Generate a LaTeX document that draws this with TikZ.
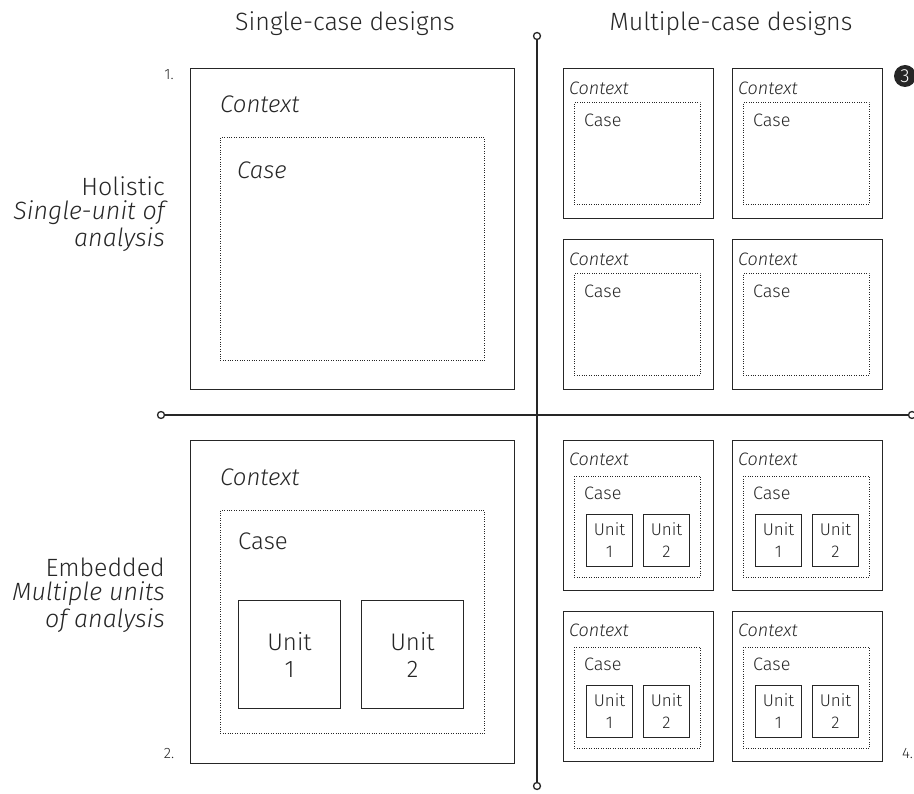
\documentclass[tikz,border=0pt]{standalone}
\usepackage{fontspec}
\setmainfont{Fira Sans Light}[ItalicFont={Fira Sans Light Italic}]
\definecolor{ink}{HTML}{262626}
\begin{document}
\begin{tikzpicture}[x=1pt,y=-1pt,
  box/.style={draw=ink, line width=1.2pt, inner sep=0pt, anchor=north west},
  casebox/.style={draw=ink, line width=0.8pt, dash pattern=on 0.8pt off 1.6pt, inner sep=0pt, anchor=north west},
  unitbox/.style={draw=ink, line width=1pt, inner sep=0pt, anchor=north west, align=center, text=ink},
  lbl/.style={text=ink, inner sep=0pt},
  head/.style={font=\fontsize{25}{27}\selectfont},
  side/.style={font=\fontsize{25}{27}\selectfont},
  sideit/.style={font=\itshape\fontsize{25}{27}\selectfont},
  big/.style={font=\fontsize{24}{27}\selectfont},
  bigit/.style={font=\itshape\fontsize{24}{27}\selectfont},
  small/.style={font=\fontsize{18}{22}\selectfont},
  smallit/.style={font=\itshape\fontsize{18}{22}\selectfont},
  tiny/.style={font=\fontsize{17}{22}\selectfont},
  axisend/.style={circle, draw=ink, line width=1.3pt, fill=white, minimum size=7pt, inner sep=0pt},
  holcell/.pic={
    \node[box, minimum width=150, minimum height=150] (-ctxbox) at (0,0) {};
    \node[casebox, minimum width=126, minimum height=102] (-casebox) at (11,34) {};
    \node[lbl, smallit, anchor=west] (-ctx) at (6,20) {Context};
    \node[lbl, small, anchor=west] (-case) at (21,52) {Case};
  },
  embcell/.pic={
    \node[box, minimum width=150, minimum height=150] (-ctxbox) at (0,0) {};
    \node[casebox, minimum width=126, minimum height=101] (-casebox) at (11,36) {};
    \node[lbl, smallit, anchor=west] (-ctx) at (6,19) {Context};
    \node[lbl, small, anchor=west] (-case) at (21,53) {Case};
    \node[unitbox, tiny, minimum width=46, minimum height=52] (-u1) at (23,74) {Unit\\1};
    \node[unitbox, tiny, minimum width=46, minimum height=52] (-u2) at (80,74) {Unit\\2};
  }
]
\useasboundingbox (0,0) rectangle (914,794);

% column headings
\node[lbl, head] (hsingle) at (345,24) {Single-case designs};
\node[lbl, head] (hmulti) at (731,24) {Multiple-case designs};

% row headings
\node[lbl, side, anchor=east] (rhol) at (165,186) {Holistic};
\node[lbl, sideit, anchor=east] (rhol2) at (165,213) {Single-unit of};
\node[lbl, sideit, anchor=east] (rhol3) at (165,240) {analysis};
\node[lbl, side, anchor=east] (remb) at (165,567) {Embedded};
\node[lbl, sideit, anchor=east] (remb2) at (165,594) {Multiple units};
\node[lbl, sideit, anchor=east] (remb3) at (165,621) {of analysis};

% axes
\node[axisend] (vtop) at (537,36) {};
\node[axisend] (vbot) at (537,786) {};
\node[axisend] (hleft) at (161,415) {};
\node[axisend] (hright) at (912,415) {};
\draw[ink, line width=1.3pt] (vtop) -- (vbot);
\draw[ink, line width=1.3pt] (hleft) -- (hright);

% quadrant numbers
\node[lbl, font=\fontsize{15}{17}\selectfont] (n1) at (169,75) {1.};
\node[lbl, font=\fontsize{15}{17}\selectfont] (n2) at (169,754) {2.};
\node[circle, fill=ink, minimum size=22pt, inner sep=0pt, text=white, font=\fontsize{19}{21}\selectfont] (n3) at (905,76) {3};
\node[lbl, anchor=west, font=\fontsize{15}{17}\selectfont] (n4) at (902,754) {4.};

% single-case holistic
\node[box, minimum width=324, minimum height=321] (shctx) at (190,68) {};
\node[casebox, minimum width=264, minimum height=223] (shcase) at (220,137) {};
\node[lbl, bigit, anchor=west] (shctxl) at (220,104) {Context};
\node[lbl, bigit, anchor=west] (shcasel) at (237,170) {Case};

% single-case embedded
\node[box, minimum width=324, minimum height=323] (sectx) at (190,440) {};
\node[casebox, minimum width=264, minimum height=223] (secase) at (220,510) {};
\node[lbl, bigit, anchor=west] (sectxl) at (220,477) {Context};
\node[lbl, big, anchor=west] (secasel) at (238,541) {Case};
\node[unitbox, big, minimum width=102, minimum height=108] (seu1) at (238,600) {Unit\\1};
\node[unitbox, big, minimum width=102, minimum height=108] (seu2) at (361,600) {Unit\\2};

% multiple-case holistic
\pic (mh1) at (563,68) {holcell};
\pic (mh2) at (732,68) {holcell};
\pic (mh3) at (563,239) {holcell};
\pic (mh4) at (732,239) {holcell};

% multiple-case embedded
\pic (me1) at (563,440) {embcell};
\pic (me2) at (732,440) {embcell};
\pic (me3) at (563,611) {embcell};
\pic (me4) at (732,611) {embcell};
\end{tikzpicture}
\end{document}
